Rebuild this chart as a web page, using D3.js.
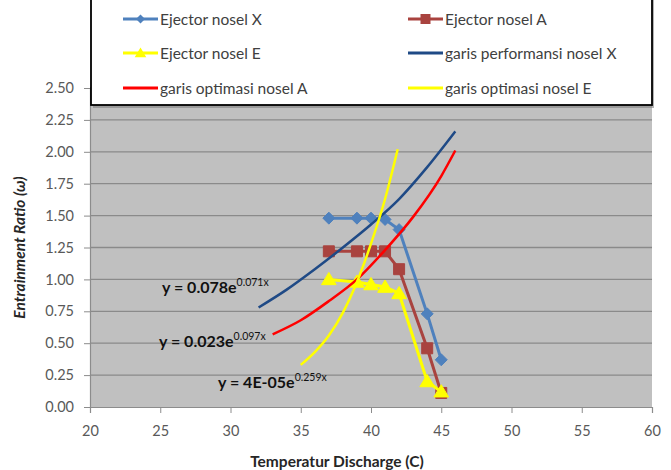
<!DOCTYPE html>
<html>
<head>
<meta charset="utf-8">
<script src="https://cdn.jsdelivr.net/npm/d3@7/dist/d3.min.js"></script>
<style>
  body { margin: 0; background: #fff; }
  svg text { font-family: Lato, "Open Sans", sans-serif; }
</style>
</head>
<body>
<svg id="chart" width="671" height="470"></svg>
<script>
// measured data
var temps = [37, 39, 40, 41, 42, 44, 45];
var noselX = [1.48, 1.48, 1.48, 1.47, 1.39, 0.73, 0.37];
var noselA = [1.22, 1.22, 1.22, 1.22, 1.08, 0.46, 0.11];
var noselE = [1.00, 0.98, 0.96, 0.94, 0.89, 0.20, 0.12];

// trend lines
var trendXt = [32, 34, 36, 38, 40, 42, 44, 46];
var trendXv = [0.78, 0.92, 1.08, 1.25, 1.43, 1.63, 1.88, 2.16];
var trendAt = [33, 35, 37, 39, 41, 43, 45, 46];
var trendAv = [0.57, 0.68, 0.83, 1.00, 1.23, 1.49, 1.81, 2.01];
var trendEt = [35, 36, 37, 38, 39, 40, 41, 41.9];
var trendEv = [0.33, 0.43, 0.56, 0.74, 0.98, 1.28, 1.63, 2.02];

var xTicks = [20, 25, 30, 35, 40, 45, 50, 55, 60];
var yTicks = [0, 0.25, 0.5, 0.75, 1, 1.25, 1.5, 1.75, 2, 2.25, 2.5];

var legendNames = ['Ejector nosel X', 'Ejector nosel A', 'Ejector nosel E',
  'garis performansi nosel X', 'garis optimasi nosel A', 'garis optimasi nosel E'];
var equations = [['y = 0.078e', '0.071x'], ['y = 0.023e', '0.097x'], ['y = 4E-05e', '0.259x']];

var svg = d3.select('#chart');
var plotLeft = 90, plotRight = 652, plotTop = 88, plotBottom = 407;

var x = d3.scaleLinear().domain([20, 60]).range([plotLeft, plotRight]);
var y = d3.scaleLinear().domain([0, 2.5]).range([plotBottom, plotTop]);

// plot background
svg.append('rect')
  .attr('x', plotLeft).attr('y', plotTop)
  .attr('width', plotRight - plotLeft).attr('height', plotBottom - plotTop)
  .attr('fill', '#c0c0c0');

// grid lines
svg.append('g').selectAll('line')
  .data(yTicks.filter(function (d) { return d > 0; }))
  .enter().append('line')
  .attr('x1', plotLeft).attr('x2', plotRight)
  .attr('y1', function (d) { return y(d); })
  .attr('y2', function (d) { return y(d); })
  .attr('stroke', '#8a8a8a')
  .attr('stroke-width', 1.3);

// axes
var yAxis = d3.axisLeft(y).tickValues(yTicks).tickFormat(d3.format('.2f')).tickSize(6).tickPadding(10);
var xAxis = d3.axisBottom(x).tickValues(xTicks).tickSize(6).tickPadding(13);

var gy = svg.append('g').attr('transform', 'translate(' + plotLeft + ',0)').call(yAxis);
var gx = svg.append('g').attr('transform', 'translate(0,' + plotBottom + ')').call(xAxis);
[gx, gy].forEach(function (g) {
  g.select('.domain').attr('stroke', '#8c8c8c').attr('stroke-width', 1.2);
  g.selectAll('.tick line').attr('stroke', '#8c8c8c');
  g.selectAll('.tick text').attr('fill', '#595959').style('font-size', '14.5px');
});

// markers
function diamond(s) { return 'M0,' + (-s) + 'L' + s + ',0L0,' + s + 'L' + (-s) + ',0Z'; }
function square(s) { return 'M' + (-s) + ',' + (-s) + 'h' + (2 * s) + 'v' + (2 * s) + 'h' + (-2 * s) + 'Z'; }
function triangle(s) { return 'M0,' + (-s) + 'L' + (s * 1.05) + ',' + (s * 0.75) + 'L' + (-s * 1.05) + ',' + (s * 0.75) + 'Z'; }

var series = [
  { values: noselX, color: '#4f81bd', marker: diamond, size: 6, stroke: '#4f81bd' },
  { values: noselA, color: '#a9433f', marker: square, size: 5.5, stroke: '#a9433f' },
  { values: noselE, color: '#ffff00', marker: triangle, size: 7, stroke: '#ffff00' }
];

var line = d3.line()
  .x(function (d) { return x(d[0]); })
  .y(function (d) { return y(d[1]); });

series.forEach(function (s) {
  var pts = d3.zip(temps, s.values);
  svg.append('path')
    .attr('d', line(pts))
    .attr('fill', 'none')
    .attr('stroke', s.color)
    .attr('stroke-width', 3);
  svg.append('g').selectAll('path')
    .data(pts)
    .enter().append('path')
    .attr('d', s.marker(s.size))
    .attr('transform', function (d) { return 'translate(' + x(d[0]) + ',' + y(d[1]) + ')'; })
    .attr('fill', s.color)
    .attr('stroke', s.stroke);
});

// trend lines
var trends = [
  { t: trendXt, v: trendXv, color: '#1f4a86' },
  { t: trendAt, v: trendAv, color: '#ff0000' },
  { t: trendEt, v: trendEv, color: '#ffff00' }
];
var smooth = d3.line()
  .x(function (d) { return x(d[0]); })
  .y(function (d) { return y(d[1]); })
  .curve(d3.curveMonotoneX);

trends.forEach(function (tr) {
  svg.append('path')
    .attr('d', smooth(d3.zip(tr.t, tr.v)))
    .attr('fill', 'none')
    .attr('stroke', tr.color)
    .attr('stroke-width', 2.5);
});

// trend equations
var eqPos = [[162, 293], [159, 347], [218, 388]];
equations.forEach(function (eq, i) {
  var t = svg.append('text')
    .attr('x', eqPos[i][0]).attr('y', eqPos[i][1])
    .attr('fill', '#111')
    .style('font-weight', 'bold')
    .style('font-size', '16px');
  t.append('tspan').text(eq[0]);
  t.append('tspan').attr('dy', -7).style('font-size', '10.5px').style('font-weight', 'normal').text(eq[1]);
});

// axis titles
svg.append('text')
  .attr('x', 337).attr('y', 467)
  .attr('text-anchor', 'middle')
  .attr('fill', '#262626')
  .style('font-weight', 'bold').style('font-size', '15.5px')
  .text('Temperatur Discharge (C)');

svg.append('text')
  .attr('transform', 'translate(25,' + ((plotTop + plotBottom) / 2) + ') rotate(-90)')
  .attr('text-anchor', 'middle')
  .attr('fill', '#262626')
  .style('font-weight', 'bold').style('font-style', 'italic').style('font-size', '15.5px')
  .text('Entrainment Ratio (\u03c9)');

// legend
var lg = svg.append('g');
lg.append('rect')
  .attr('x', 93).attr('y', -5).attr('width', plotRight - 91).attr('height', 113)
  .attr('fill', '#808080').attr('opacity', 0.6);
lg.append('rect')
  .attr('x', 91).attr('y', -5).attr('width', plotRight - 91).attr('height', 110)
  .attr('fill', '#fff').attr('stroke', '#000').attr('stroke-width', 1.8);

var legendItems = [
  { color: '#4f81bd', marker: diamond, size: 4.5 },
  { color: '#a9433f', marker: square, size: 5 },
  { color: '#ffff00', marker: triangle, size: 5.5 },
  { color: '#1f4a86' },
  { color: '#ff0000' },
  { color: '#ffff00' }
];
var rowY = [19, 53, 88];
legendItems.forEach(function (it, i) {
  var col = i % 2, row = Math.floor(i / 2);
  var lx = col === 0 ? 123 : 408, ly = rowY[row];
  lg.append('line')
    .attr('x1', lx).attr('x2', lx + 35)
    .attr('y1', ly).attr('y2', ly)
    .attr('stroke', it.color).attr('stroke-width', 3);
  if (it.marker) {
    lg.append('path')
      .attr('d', it.marker(it.size))
      .attr('transform', 'translate(' + (lx + 17.5) + ',' + ly + ')')
      .attr('fill', it.color);
  }
  lg.append('text')
    .attr('x', lx + 37).attr('y', ly + 5.5)
    .attr('fill', '#404040')
    .style('font-size', '15.5px')
    .text(legendNames[i]);
});
</script>
</body>
</html>
